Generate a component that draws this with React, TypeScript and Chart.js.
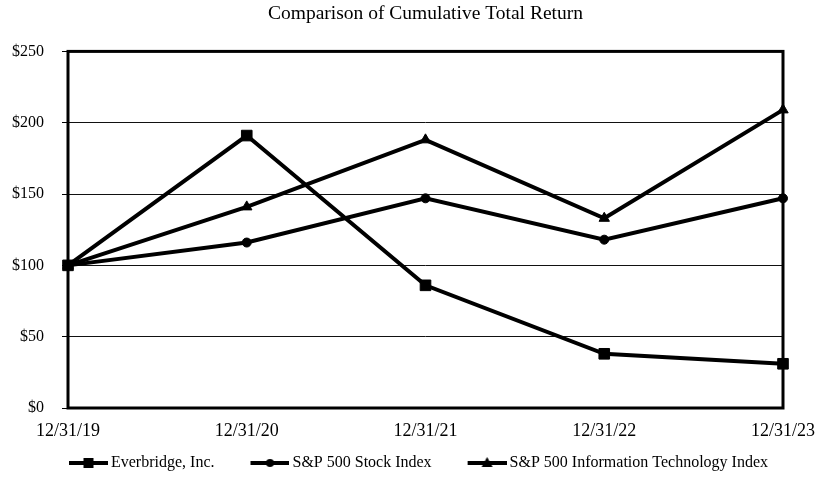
import React, { useEffect, useRef } from "react";
import { Chart, registerables } from "chart.js";

Chart.register(...registerables);

const categories = ["12/31/19", "12/31/20", "12/31/21", "12/31/22", "12/31/23"];
const everbridge = [100, 191, 86, 38, 31];
const sp500 = [100, 116, 147, 118, 147];
const spIT = [100, 141, 188, 133, 209];
const seriesNames = ["Everbridge, Inc.", "S&P 500 Stock Index", "S&P 500 Information Technology Index"];
const yTicks = [0, 50, 100, 150, 200, 250];

const FONT = "'Liberation Serif', 'Times New Roman', serif";
const LEGEND_BOX = 60;
const LEGEND_LINE = 39;

function makeLegendImage(kind: string): HTMLCanvasElement {
  const W = LEGEND_BOX + 10;
  const H = 14;
  const c = document.createElement("canvas");
  c.width = W;
  c.height = H;
  const ctx = c.getContext("2d")!;
  ctx.strokeStyle = "#000";
  ctx.fillStyle = "#000";
  ctx.lineWidth = 4;
  const x0 = W - LEGEND_LINE;
  ctx.beginPath();
  ctx.moveTo(x0, H / 2);
  ctx.lineTo(W, H / 2);
  ctx.stroke();
  const cx = x0 + LEGEND_LINE / 2;
  const cy = H / 2;
  ctx.beginPath();
  if (kind === "rect") {
    ctx.rect(cx - 5, cy - 5, 10, 10);
  } else if (kind === "circle") {
    ctx.arc(cx, cy, 4, 0, Math.PI * 2);
  } else {
    ctx.moveTo(cx, cy - 6);
    ctx.lineTo(cx + 5.5, cy + 4);
    ctx.lineTo(cx - 5.5, cy + 4);
    ctx.closePath();
  }
  ctx.fill();
  return c;
}

const framePlugin = {
  id: "frame",
  beforeDatasetsDraw(chart: any) {
    const { ctx, chartArea } = chart;
    ctx.save();
    ctx.strokeStyle = "#000";
    ctx.lineWidth = 3;
    ctx.strokeRect(chartArea.left, chartArea.top, chartArea.right - chartArea.left, chartArea.bottom - chartArea.top);
    ctx.restore();
  },
};

export default function App() {
  const ref = useRef<HTMLCanvasElement | null>(null);

  useEffect(() => {
    if (!ref.current) return;
    const styles = ["rect", "circle", "triangle"];
    const imgs = styles.map(makeLegendImage);
    const common = {
      borderColor: "#000",
      backgroundColor: "#000",
      pointBackgroundColor: "#000",
      pointBorderColor: "#000",
      borderWidth: 4,
      tension: 0,
      clip: false as any,
      pointBorderWidth: 1,
    };
    const chart = new Chart(ref.current, {
      type: "line",
      data: {
        labels: categories,
        datasets: [
          { ...common, label: seriesNames[0], data: everbridge, pointStyle: "rect", pointRadius: 7.5 },
          { ...common, label: seriesNames[1], data: sp500, pointStyle: "circle", pointRadius: 4.5 },
          { ...common, label: seriesNames[2], data: spIT, pointStyle: "triangle", pointRadius: 6 },
        ],
      },
      options: {
        animation: false,
        responsive: true,
        maintainAspectRatio: false,
        layout: { padding: { left: 0, right: 4, top: 0, bottom: -4 } },
        plugins: {
          tooltip: { enabled: false },
          title: {
            display: true,
            fullSize: false,
            text: "Comparison of Cumulative Total Return",
            color: "#000",
            font: { family: FONT, size: 19.5, weight: "normal" },
            padding: { top: 2, bottom: 26 },
          },
          legend: {
            display: true,
            position: "bottom",
            labels: {
              usePointStyle: true,
              pointStyleWidth: LEGEND_BOX,
              color: "#000",
              font: { family: FONT, size: 16 },
              padding: 10,
              generateLabels: (ch: any) =>
                ch.data.datasets.map((ds: any, i: number) => ({
                  text: ds.label,
                  pointStyle: imgs[i],
                  fillStyle: "#000",
                  strokeStyle: "#000",
                  lineWidth: 0,
                  hidden: false,
                  datasetIndex: i,
                  fontColor: "#000",
                })),
            },
          },
        },
        scales: {
          x: {
            type: "category",
            offset: false,
            grid: { display: false, drawTicks: true, tickLength: 12 },
            border: { display: false },
            ticks: {
              color: "#000",
              font: { family: FONT, size: 18 },
              padding: 0,
              maxRotation: 0,
              autoSkip: false,
            },
            afterFit: (s: any) => {
              s.height = 37;
            },
          },
          y: {
            min: 0,
            max: 250,
            afterBuildTicks: (s: any) => {
              s.ticks = yTicks.map((v) => ({ value: v }));
            },
            grid: { color: "#111", lineWidth: 1, tickLength: 6, drawTicks: true, tickColor: "#000" },
            border: { display: false },
            ticks: {
              color: "#000",
              font: { family: FONT, size: 16 },
              padding: 18,
              callback: (v: any) => "$" + v,
            },
            afterFit: (s: any) => {
              s.width = 68;
            },
          },
        },
      },
      plugins: [framePlugin],
    });
    return () => chart.destroy();
  }, []);

  return (
    <div style={{ position: "absolute", left: 0, top: 0, width: 815, height: 477, background: "#fff" }}>
      <canvas ref={ref} />
    </div>
  );
}
